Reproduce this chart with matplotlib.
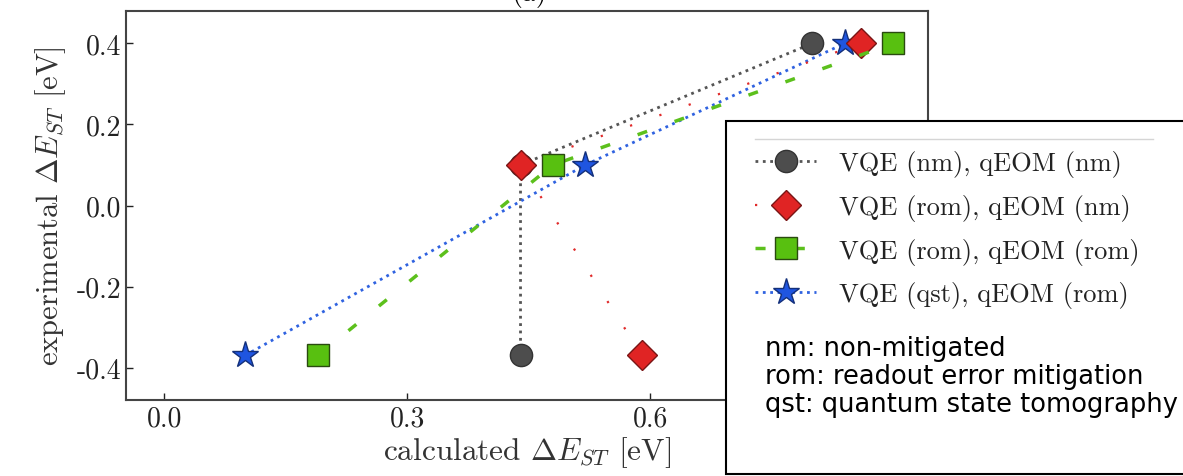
import matplotlib
matplotlib.use("Agg")
import matplotlib.pyplot as plt
from matplotlib.patches import Rectangle
from matplotlib.lines import Line2D

plt.rcParams['font.family'] = 'serif'
plt.rcParams['font.serif'] = ['cmr10']
plt.rcParams['mathtext.fontset'] = 'cm'
plt.rcParams['axes.unicode_minus'] = False

# calculated vs experimental singlet-triplet gaps [eV]
exp_vals = [-0.37, 0.10, 0.40]
calc_nm_nm = [0.44, 0.44, 0.80]
calc_rom_nm = [0.59, 0.44, 0.86]
calc_rom_rom = [0.19, 0.48, 0.90]
calc_qst_rom = [0.10, 0.52, 0.84]

labels = ['VQE (nm), qEOM (nm)', 'VQE (rom), qEOM (nm)',
          'VQE (rom), qEOM (rom)', 'VQE (qst), qEOM (rom)']
notes = ['nm: non-mitigated', 'rom: readout error mitigation',
         'qst: quantum state tomography']

# the 0.9 tick sits under the overlay box, so only the visible ones
xticks = [0.0, 0.3, 0.6]
xtick_labels = ['0.0', '0.3', '0.6']
yticks = [-0.4, -0.2, 0.0, 0.2, 0.4]
ytick_labels = ['-0.4', '-0.2', '0.0', '0.2', '0.4']

W, H = 1183, 477
fig = plt.figure(figsize=(W / 100, H / 100), dpi=100)
ax = fig.add_axes([126 / W, 1 - 401 / H, (928 - 126) / W, (401 - 12) / H])

h1, = ax.plot(calc_nm_nm, exp_vals, ls=':', lw=2, color='#555555',
              marker='o', ms=16, mfc='#4d4d4d', mec='#333333', mew=1, zorder=3)
h4, = ax.plot(calc_qst_rom, exp_vals, ls=':', lw=2, color='#2f62e0',
              marker='*', ms=20, mfc='#1f55e0', mec='#14307a', mew=1, zorder=4)
h2, = ax.plot(calc_rom_nm, exp_vals, ls=(0, (1, 13)), lw=1.6, color='#e02a2a',
              marker='D', ms=15, mfc='#e02424', mec='#7a1515', mew=1, zorder=5)
h3, = ax.plot(calc_rom_rom, exp_vals, ls=(0, (2.9, 8.4)), lw=2.5, color='#5cc01c',
              marker='s', ms=16, mfc='#58c010', mec='#2a4a10', mew=1, zorder=6)

ax.set_xlim(-0.047, 0.943)
ax.set_ylim(-0.48, 0.48)
ax.set_xticks(xticks, xtick_labels)
ax.set_yticks(yticks, ytick_labels)
ax.tick_params(direction='in', length=5, width=1, labelsize=20, colors='#222222')
for s in ax.spines.values():
    s.set_color('#444444')
    s.set_linewidth(1.5)
ax.set_xlabel(r'calculated $\Delta E_{ST}$ [eV]', fontsize=22.5, color='#333333',
              labelpad=2)
ax.set_ylabel(r'experimental $\Delta E_{ST}$ [eV]', fontsize=22, color='#333333',
              labelpad=6)

fig.text(529 / W, 1 - 1 / H, '(a)', ha='center', va='baseline', fontsize=20)

# overlay box with legend and notes
fig.patches.append(Rectangle((726 / W, 0.004), 1.0, 1 - 122 / H - 0.004,
                             transform=fig.transFigure, fc='white',
                             ec='black', lw=1.5, zorder=10))
fig.lines.append(Line2D([755 / W, 1153 / W], [1 - 140 / H, 1 - 140 / H],
                        transform=fig.transFigure, color='#d5d5d5', lw=1, zorder=11))
leg = fig.legend([h1, h2, h3, h4], labels, loc='upper left',
                 bbox_to_anchor=(737 / W, 1 - 133 / H), frameon=False,
                 fontsize=19, handlelength=2.3, handletextpad=0.85,
                 labelspacing=0.63, borderpad=0.2)
leg.set_zorder(12)
for t in leg.get_texts():
    t.set_color('#222222')

fig.text(765 / W, 1 - 377 / H, '\n'.join(notes), ha='left', va='center',
         fontsize=18.5, family='DejaVu Sans', linespacing=1.08, zorder=12)

fig.savefig('out.png', dpi=100)
